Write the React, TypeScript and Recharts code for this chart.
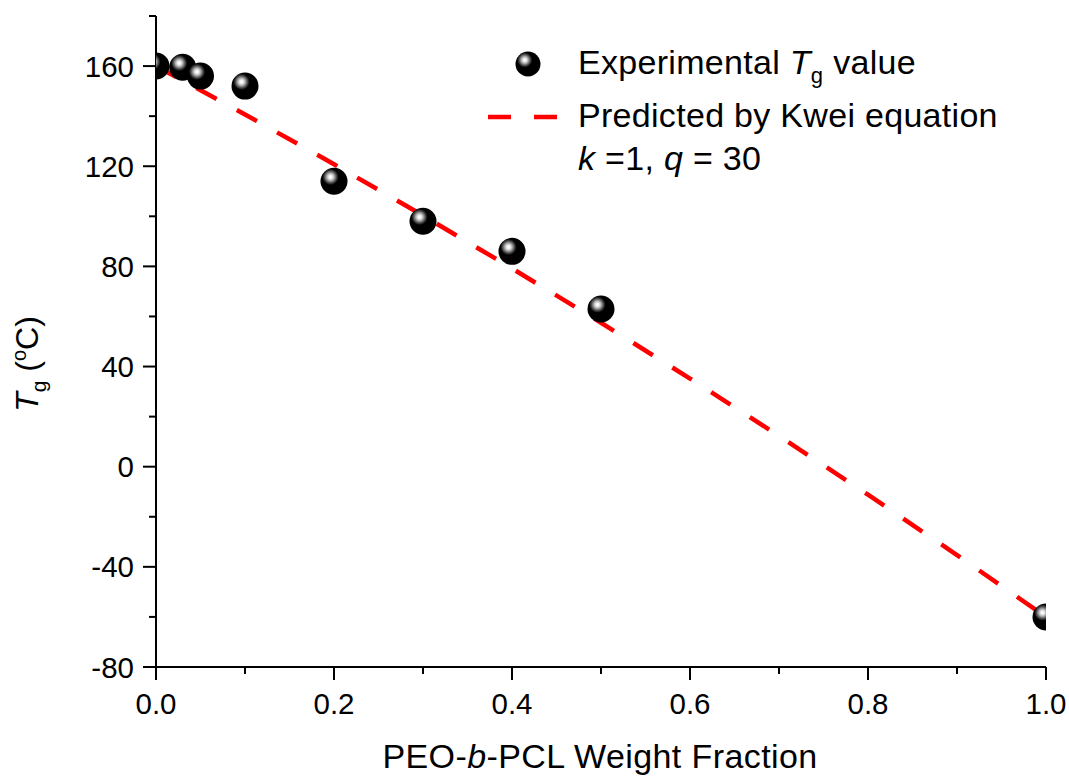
import { ComposedChart, Line, Scatter, XAxis, YAxis, Customized } from "recharts"

// experimental Tg points (weight fraction of PEO-b-PCL vs Tg in degC)
const expW = [0, 0.03, 0.05, 0.1, 0.2, 0.3, 0.4, 0.5, 1.0]
const expTg = [160, 159.5, 156, 152, 114, 98, 86, 63, -60]

// dashed Kwei curve
const kweiW = [0, 0.1, 0.2, 0.3, 0.4, 0.5, 0.6, 0.7, 0.8, 0.9, 1.0]
const kweiTg = [160, 140.7, 120.8, 100.3, 79.2, 57.5, 35.2, 12.3, -11.2, -35.3, -60]

const xTicks = [0, 0.1, 0.2, 0.3, 0.4, 0.5, 0.6, 0.7, 0.8, 0.9, 1.0]
const yTicks = [-80, -60, -40, -20, 0, 20, 40, 60, 80, 100, 120, 140, 160, 180]

const expData = expW.map((w, i) => ({ w, tg: expTg[i] }))
const kweiData = kweiW.map((w, i) => ({ w, tg: kweiTg[i] }))

const FONT = '"Liberation Sans", Arial, sans-serif'

const BottomTick = ({ x, y, payload }: any) => {
  const major = Math.round(payload.value * 10) % 2 === 0
  return (
    <g>
      <line x1={x} y1={y} x2={x} y2={y + (major ? 13 : 7)} stroke="#000" strokeWidth={2} />
      {major && (
        <text x={x} y={y + 47} textAnchor="middle" fontSize={29.5} fontFamily={FONT} fill="#000">
          {payload.value.toFixed(1)}
        </text>
      )}
    </g>
  )
}

const LeftTick = ({ x, y, payload }: any) => {
  const major = payload.value % 40 === 0
  return (
    <g>
      <line x1={x} y1={y} x2={x - (major ? 13 : 7)} y2={y} stroke="#000" strokeWidth={2} />
      {major && (
        <text x={x - 22} y={y + 10.5} textAnchor="end" fontSize={29.5} fontFamily={FONT} fill="#000">
          {payload.value}
        </text>
      )}
    </g>
  )
}

const TopTick = ({ x, y }: any) => <line x1={x} y1={y} x2={x} y2={y - 3} stroke="#000" strokeWidth={2} />
const RightTick = ({ x, y }: any) => <line x1={x} y1={y} x2={x + 3} y2={y} stroke="#000" strokeWidth={2} />

const Sphere = ({ cx, cy }: any) => {
  if (cx == null || cy == null) return null
  return <circle cx={cx} cy={cy} r={13.5} fill="url(#sphereGrad)" />
}

const Overlay = () => (
  <g fontFamily={FONT} fill="#000">
    <defs>
      <radialGradient id="sphereGrad" cx="0.37" cy="0.34" r="0.3">
        <stop offset="0" stopColor="#ffffff" />
        <stop offset="0.2" stopColor="#f2f2f2" />
        <stop offset="0.45" stopColor="#b0b0b0" />
        <stop offset="0.75" stopColor="#4a4a4a" />
        <stop offset="1" stopColor="#000000" />
      </radialGradient>
    </defs>
    {/* legend */}
    <circle cx={528} cy={64} r={12.5} fill="url(#sphereGrad)" />
    <text x={578} y={74} fontSize={34} letterSpacing={0.3}>
      Experimental <tspan fontStyle="italic">T</tspan>
      <tspan fontSize={22} dy={9}>g</tspan>
      <tspan dy={-9}> value</tspan>
    </text>
    <line x1={488} y1={117} x2={558} y2={117} stroke="#ff0000" strokeWidth={4.5} strokeDasharray="23 23" />
    <text x={578} y={127} fontSize={34} letterSpacing={0.3}>
      Predicted by Kwei equation
    </text>
    <text x={578} y={170} fontSize={34} letterSpacing={0.3}>
      <tspan fontStyle="italic">k</tspan> =1, <tspan fontStyle="italic">q</tspan> = 30
    </text>
    {/* axis titles */}
    <text x={600} y={768} fontSize={34} letterSpacing={0.4} textAnchor="middle">
      PEO-<tspan fontStyle="italic">b</tspan>-PCL Weight Fraction
    </text>
    <text x={38} y={364} fontSize={32} textAnchor="middle" transform="rotate(-90 38 364)">
      <tspan fontStyle="italic">T</tspan>
      <tspan fontSize={21} dy={8}>g</tspan>
      <tspan dy={-8}> (</tspan>
      <tspan fontSize={20} dy={-12}>o</tspan>
      <tspan dy={12}>C)</tspan>
    </text>
  </g>
)

export default function App() {
  return (
    <div style={{ position: "absolute", left: 0, top: 0, background: "#fff" }}>
      <ComposedChart width={1069} height={776} margin={{ top: 16, right: 23, left: 0, bottom: 0 }}>
        <XAxis
          xAxisId={0}
          type="number"
          dataKey="w"
          domain={[0, 1]}
          ticks={xTicks}
          interval={0}
          allowDataOverflow
          height={109}
          tickSize={0}
          tickMargin={0}
          tickLine={false}
          tick={<BottomTick />}
          axisLine={{ stroke: "#000", strokeWidth: 2 }}
        />
        <XAxis
          xAxisId="top"
          orientation="top"
          type="number"
          dataKey="w"
          domain={[0, 1]}
          ticks={xTicks}
          interval={0}
          allowDataOverflow
          height={0}
          tickSize={0}
          tickMargin={0}
          tickLine={false}
          tick={<TopTick />}
          axisLine={{ stroke: "#000", strokeWidth: 2 }}
        />
        <YAxis
          yAxisId={0}
          type="number"
          dataKey="tg"
          domain={[-80, 180]}
          ticks={yTicks}
          interval={0}
          allowDataOverflow
          width={156}
          tickSize={0}
          tickMargin={0}
          tickLine={false}
          tick={<LeftTick />}
          axisLine={{ stroke: "#000", strokeWidth: 2 }}
        />
        <YAxis
          yAxisId="right"
          orientation="right"
          type="number"
          dataKey="tg"
          domain={[-80, 180]}
          ticks={yTicks}
          interval={0}
          allowDataOverflow
          width={0}
          tickSize={0}
          tickMargin={0}
          tickLine={false}
          tick={<RightTick />}
          axisLine={{ stroke: "#000", strokeWidth: 2 }}
        />
        <Scatter data={expData} dataKey="tg" shape={<Sphere />} isAnimationActive={false} />
        <Line
          data={kweiData}
          dataKey="tg"
          type="linear"
          stroke="#ff0000"
          strokeWidth={4.5}
          strokeDasharray="23 23"
          dot={false}
          activeDot={false}
          isAnimationActive={false}
        />
        <Customized component={<Overlay />} />
      </ComposedChart>
    </div>
  )
}
